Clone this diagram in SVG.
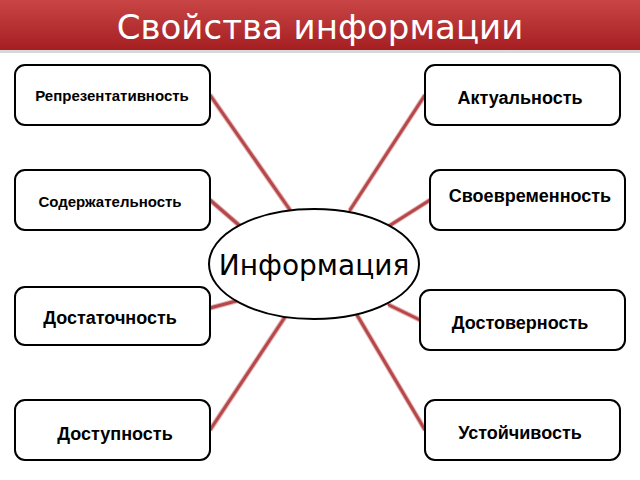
<svg xmlns="http://www.w3.org/2000/svg" width="640" height="480" viewBox="0 0 640 480">
<defs>
<linearGradient id="hg" x1="0" y1="0" x2="0" y2="1"><stop offset="0" stop-color="#c94545"/><stop offset="1" stop-color="#a51f22"/></linearGradient>
</defs>
<style>
.b{fill:#fff;stroke:#000;stroke-width:2}
.t{font-family:"Liberation Sans",Arial,sans-serif;font-weight:bold;font-size:18px;fill:#000;text-anchor:middle}
.c line{stroke:#b5484a;stroke-width:3;stroke-linecap:round}
.c2 line{stroke:#e6b0b0;stroke-width:5}
</style>
<rect x="0" y="0" width="640" height="480" fill="#fff"/>
<rect x="0" y="0" width="640" height="50" fill="url(#hg)"/>
<rect x="0" y="50" width="640" height="3" fill="#d8d8d8"/>
<text x="320" y="39" font-family="'DejaVu Sans',sans-serif" font-size="34" fill="#fff" text-anchor="middle">Свойства информации</text>
<g id="connectors">
<g class="c2"><line x1="210" y1="95" x2="290" y2="210"/><line x1="425" y1="95" x2="350" y2="210"/><line x1="210" y1="200" x2="240" y2="226"/><line x1="430" y1="200" x2="389" y2="226"/><line x1="210" y1="308" x2="240" y2="300"/><line x1="420" y1="320" x2="389" y2="305"/><line x1="210" y1="430" x2="285" y2="317"/><line x1="425" y1="430" x2="357" y2="315"/></g>
<g class="c"><line x1="210" y1="95" x2="290" y2="210"/><line x1="425" y1="95" x2="350" y2="210"/><line x1="210" y1="200" x2="240" y2="226"/><line x1="430" y1="200" x2="389" y2="226"/><line x1="210" y1="308" x2="240" y2="300"/><line x1="420" y1="320" x2="389" y2="305"/><line x1="210" y1="430" x2="285" y2="317"/><line x1="425" y1="430" x2="357" y2="315"/></g>
</g>
<g id="center"><ellipse cx="314" cy="264" rx="105" ry="55" fill="#fff" stroke="#000" stroke-width="2"/><text x="314" y="275" font-family="'DejaVu Sans',sans-serif" font-size="28" text-anchor="middle">Информация</text></g>
<g id="n1"><rect class="b" x="15" y="65" width="195" height="60" rx="10"/><text class="t" x="112" y="101" style="font-size:15px">Репрезентативность</text></g>
<g id="n2"><rect class="b" x="425" y="65" width="195" height="60" rx="10"/><text class="t" x="520" y="104">Актуальность</text></g>
<g id="n3"><rect class="b" x="15" y="170" width="195" height="60" rx="10"/><text class="t" x="110" y="207" style="font-size:15px">Содержательность</text></g>
<g id="n4"><rect class="b" x="430" y="170" width="195" height="60" rx="10"/><text class="t" x="530" y="202">Своевременность</text></g>
<g id="n5"><rect class="b" x="15" y="287" width="195" height="58" rx="10"/><text class="t" x="110" y="324">Достаточность</text></g>
<g id="n6"><rect class="b" x="420" y="290" width="205" height="60" rx="10"/><text class="t" x="520" y="329">Достоверность</text></g>
<g id="n7"><rect class="b" x="15" y="400" width="195" height="60" rx="10"/><text class="t" x="115" y="440">Доступность</text></g>
<g id="n8"><rect class="b" x="425" y="400" width="195" height="60" rx="10"/><text class="t" x="520" y="439">Устойчивость</text></g>
</svg>
